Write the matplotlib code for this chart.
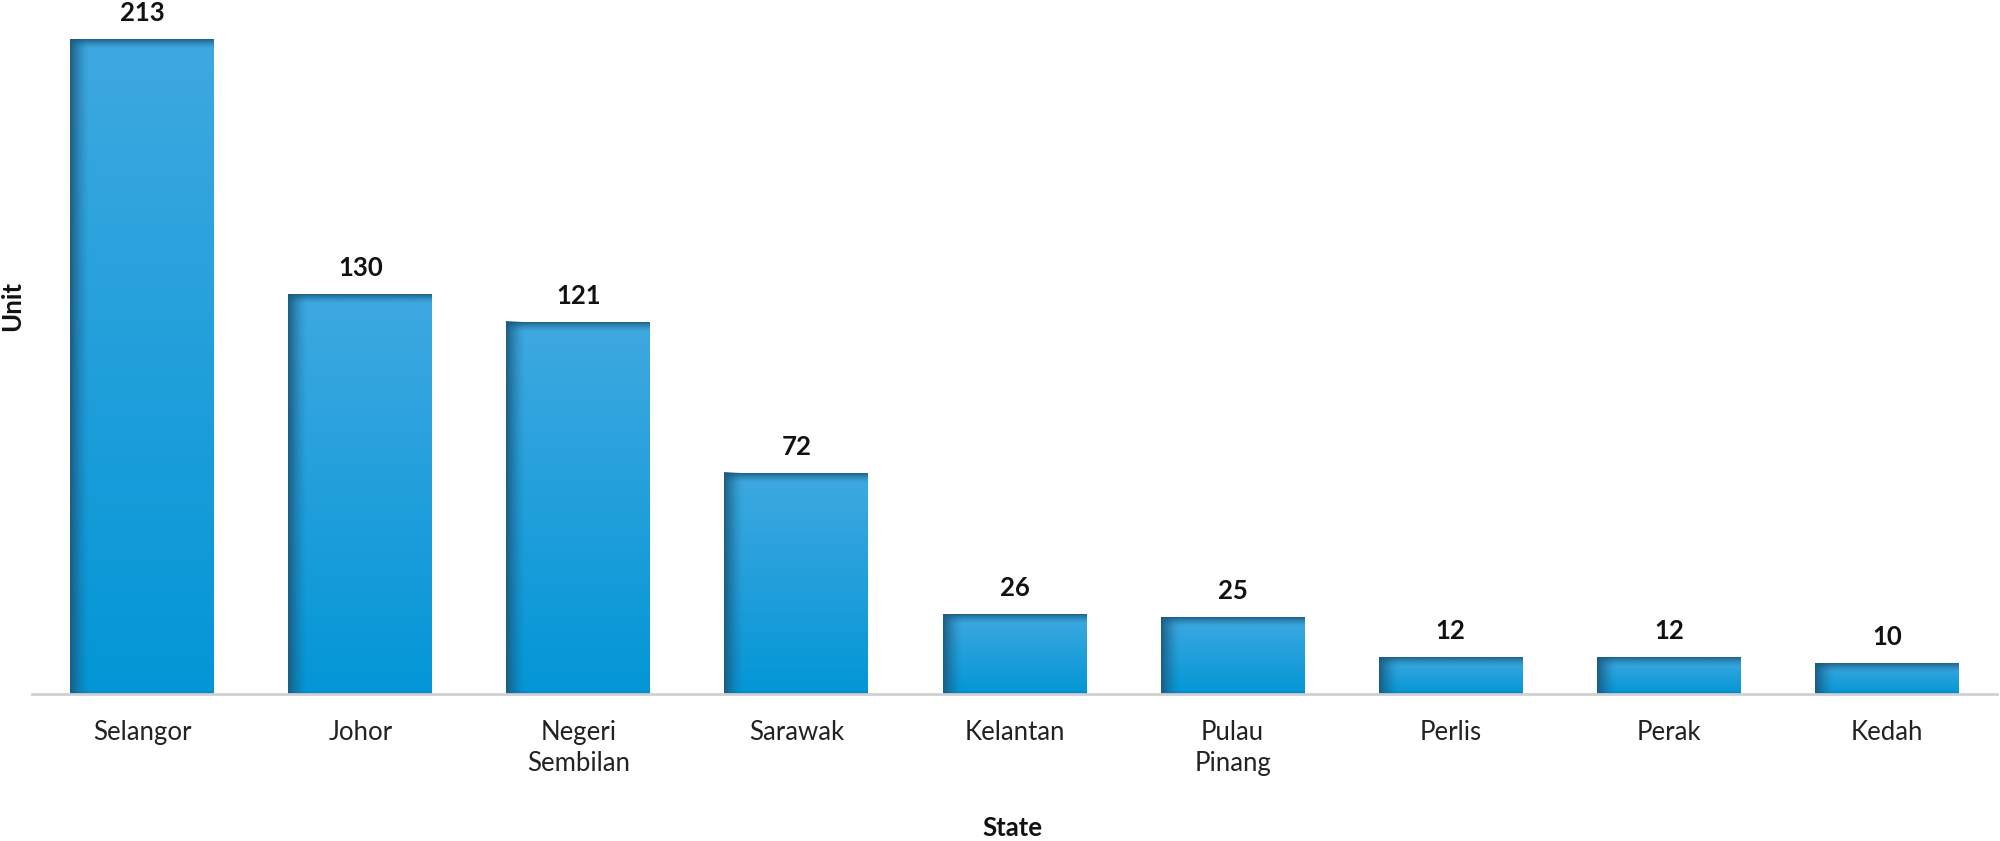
import matplotlib
matplotlib.use("Agg")
import matplotlib.pyplot as plt
import numpy as np
from matplotlib.colors import to_rgb

plt.rcParams.update({
    "font.family": ["Lato", "DejaVu Sans"],
    "font.size": 18,
})

states = ["Selangor", "Johor", "Negeri\nSembilan", "Sarawak", "Kelantan",
          "Pulau\nPinang", "Perlis", "Perak", "Kedah"]
units = [213, 130, 121, 72, 26, 25, 12, 12, 10]

top_col = to_rgb("#3fa9e0")
bot_col = to_rgb("#0396d6")
shade_col = to_rgb("#1a5a80")

W, H = 2000, 841
fig = plt.figure(figsize=(W / 100, H / 100), dpi=100)
ax = fig.add_axes([32 / W, (H - 694) / H, (1997 - 32) / W, 694 / H])

x = np.arange(len(states))
ymax = 213 * 694 / 655
ax.set_xlim(-0.505, len(states) - 0.495)
ax.set_ylim(0, ymax)

bars = ax.bar(x, units, width=0.66, color=bot_col, zorder=2)

# data units per pixel
px_x = (len(states) - 1 + 1.01) / (1997 - 32)
px_y = ymax / 694

for b in bars:
    x0, w, h = b.get_x(), b.get_width(), b.get_height()
    # vertical gradient body
    t = np.linspace(0, 1, 256)[:, None]
    grad = np.array(top_col)[None, None, :] * (1 - t[..., None]) + np.array(bot_col)[None, None, :] * t[..., None]
    grad = np.repeat(grad, 2, axis=1)
    im = ax.imshow(grad, extent=(x0, x0 + w, 0, h), aspect="auto", zorder=3,
                   interpolation="bilinear")
    im.set_clip_path(b)
    # left shadow
    s = np.linspace(1, 0, 64) ** 1.5
    left = np.zeros((2, 64, 4))
    left[..., :3] = shade_col
    left[..., 3] = s * 0.95
    ax.imshow(left, extent=(x0, x0 + 20 * px_x, 0, h), aspect="auto", zorder=4,
              interpolation="bilinear")
    # top shadow
    tb = np.zeros((64, 2, 4))
    tb[..., :3] = shade_col
    tb[..., 3] = (np.linspace(1, 0, 64) ** 1.5 * 0.9)[:, None]
    ax.imshow(tb, extent=(x0, x0 + w, h - 10 * px_y, h), aspect="auto", zorder=4,
              interpolation="bilinear")
    # thin dark line at bottom
    bb = np.zeros((16, 2, 4))
    bb[..., :3] = shade_col
    bb[..., 3] = (np.linspace(0, 1, 16) * 0.5)[:, None]
    ax.imshow(bb, extent=(x0, x0 + w, 0, 3 * px_y), aspect="auto", zorder=4,
              interpolation="bilinear")

for xi, v in zip(x, units):
    ax.annotate(str(v), (xi, v), xytext=(0, 10), textcoords="offset points",
                ha="center", va="bottom", fontsize=18.5, fontweight="bold",
                color="#111111")

ax.set_xticks(x)
ax.set_xticklabels(states, fontsize=18.5, color="#222222", linespacing=1.3)
ax.tick_params(axis="x", length=0, pad=19)
ax.set_yticks([])
for sp in ["top", "right", "left"]:
    ax.spines[sp].set_visible(False)
ax.spines["bottom"].set_color("#d0d0d0")
ax.spines["bottom"].set_linewidth(2)
ax.spines["bottom"].set_zorder(5)

fig.text(1012 / W, 1 - 828 / H, "State", ha="center", va="center",
         fontsize=18.5, fontweight="bold", color="#111111")
fig.text(12 / W, 1 - 306 / H, "Unit", ha="center", va="center", rotation=90,
         fontsize=18.5, fontweight="bold", color="#111111")

fig.savefig("out.png", dpi=100, facecolor="white")
